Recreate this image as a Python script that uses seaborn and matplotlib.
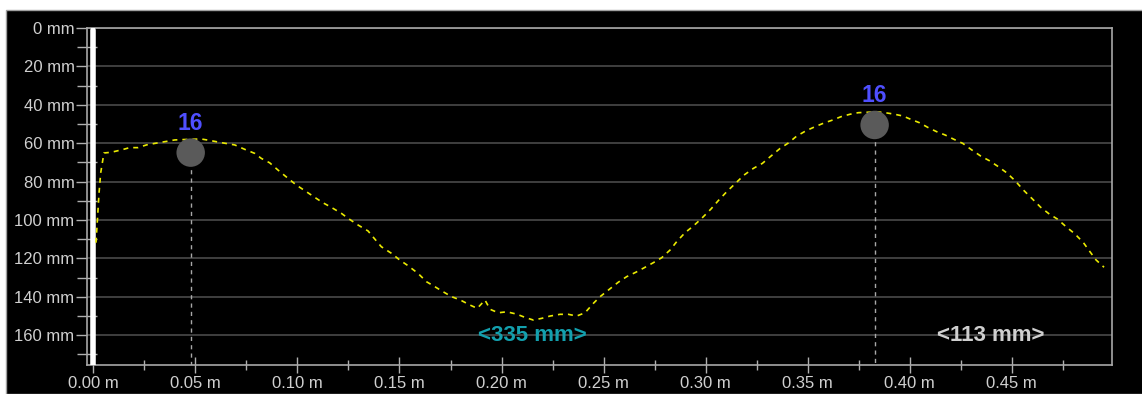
import matplotlib
matplotlib.use("Agg")
import matplotlib.pyplot as plt
from matplotlib.patches import Rectangle
from matplotlib.ticker import MultipleLocator, FuncFormatter
import seaborn as sns
import pandas as pd

# ---- data ----
pos_m = [0.0013, 0.0020, 0.0028, 0.0036, 0.0052, 0.0088, 0.0137, 0.0178, 0.0219, 0.0260,
         0.0301, 0.0350, 0.0399, 0.0464, 0.0529, 0.0578, 0.0627, 0.0693, 0.0742, 0.0791,
         0.0823, 0.0864, 0.0905, 0.0954, 0.0995, 0.1036, 0.1085, 0.1125, 0.1166, 0.1215,
         0.1248, 0.1297, 0.1346, 0.1379, 0.1411, 0.1460, 0.1501, 0.1542, 0.1591, 0.1632,
         0.1673, 0.1713, 0.1755, 0.1799, 0.1846, 0.1881, 0.1919, 0.1944, 0.1984, 0.2026,
         0.2074, 0.2115, 0.2156, 0.2197, 0.2238, 0.2287, 0.2327, 0.2368, 0.2409, 0.2450,
         0.2483, 0.2528, 0.2572, 0.2613, 0.2658, 0.2700, 0.2744, 0.2785, 0.2826, 0.2858,
         0.2899, 0.2940, 0.2981, 0.3025, 0.3062, 0.3103, 0.3149, 0.3188, 0.3234, 0.3278,
         0.3320, 0.3365, 0.3405, 0.3446, 0.3492, 0.3536, 0.3577, 0.3623, 0.3663, 0.3708,
         0.3748, 0.3789, 0.3838, 0.3879, 0.3920, 0.3966, 0.4006, 0.4047, 0.4091, 0.4132,
         0.4173, 0.4217, 0.4260, 0.4304, 0.4348, 0.4390, 0.4434, 0.4475, 0.4516, 0.4557,
         0.4598, 0.4642, 0.4684, 0.4725, 0.4766, 0.4810, 0.4851, 0.4883, 0.4913, 0.4952]
depth_mm = [111.8, 100.0, 85.9, 75.5, 65.1, 64.7, 63.5, 62.3, 62.3, 60.9,
            60.1, 59.2, 58.3, 58.0, 57.8, 58.7, 59.7, 60.9, 63.2, 65.3,
            67.9, 70.2, 74.0, 78.3, 81.8, 84.7, 88.2, 91.0, 93.4, 96.5,
            99.1, 102.6, 105.7, 109.9, 113.9, 117.3, 120.8, 123.8, 127.8, 132.1,
            134.7, 137.3, 139.9, 141.7, 144.3, 146.0, 141.7, 146.5, 148.3, 147.8,
            149.0, 150.7, 152.1, 151.2, 150.0, 149.1, 149.1, 150.0, 148.3, 143.4,
            139.9, 136.1, 132.4, 129.5, 127.2, 124.8, 122.2, 119.6, 115.6, 111.3,
            106.6, 103.1, 99.1, 94.4, 89.9, 85.3, 80.6, 76.6, 73.1, 70.5,
            66.7, 62.7, 59.9, 56.3, 53.5, 51.4, 49.6, 47.9, 46.2, 44.9,
            44.1, 43.9, 43.6, 44.1, 44.8, 45.8, 47.6, 49.3, 51.9, 54.0,
            55.7, 58.0, 60.1, 63.5, 66.7, 69.1, 72.2, 75.4, 79.5, 84.4,
            88.7, 93.4, 96.9, 99.6, 103.5, 107.3, 111.8, 116.5, 120.8, 124.6]

marker_x = [0.0477, 0.3828]
marker_y = [64.9, 50.5]
marker_labels = ["16", "16"]

span_labels = ["<335 mm>", "<113 mm>"]
span_x = [0.2153, 0.4395]
span_y = [160, 160]
span_colors = ["#13a0ae", "#cfcfcf"]

x_end = 0.4991

# ---- figure ----
sns.set_theme(style="dark")
plt.rcParams["font.family"] = ["Liberation Sans", "DejaVu Sans"]

W, H = 1142, 394
fig = plt.figure(figsize=(W / 100, H / 100), dpi=100, facecolor="white")
bg = Rectangle((6 / W, 0), 1, (H - 10) / H, transform=fig.transFigure,
               facecolor="black", edgecolor="#a0a0a0", lw=1, zorder=-10)
fig.add_artist(bg)
ax = fig.add_axes([87 / W, 1 - 365 / H, (1112 - 87) / W, (365 - 28) / H])
ax.set_zorder(5)
ax.set_facecolor("black")

curve = pd.DataFrame({"pos": pos_m, "depth": depth_mm})
sns.lineplot(data=curve, x="pos", y="depth", ax=ax, color="#eaea00", lw=1.2,
             linestyle=(0, (3, 3)), sort=False, zorder=4)

# white bar at origin
ax.axvline(0, color="white", lw=4, ymin=0, ymax=0.995, zorder=3)

# marker drop lines
for mx, my in zip(marker_x, marker_y):
    ax.vlines(mx, my, 175.5, color="#a8a8a8", lw=1, linestyles=(0, (3, 3)), zorder=2)

mk = pd.DataFrame({"x": marker_x, "y": marker_y})
sns.scatterplot(data=mk, x="x", y="y", ax=ax, s=420, color="#5a5a5a",
                edgecolor="none", zorder=5)
for mx, my, lab in zip(marker_x, marker_y, marker_labels):
    ax.annotate(lab, (mx, my), xytext=(0, 21), textcoords="offset points",
                ha="center", va="center", color="#4f4fff", fontsize=16.5,
                fontweight="bold", zorder=6)

for sx, sy, lab, c in zip(span_x, span_y, span_labels, span_colors):
    ax.text(sx, sy, lab, ha="center", va="center", color=c, fontsize=16,
            fontweight="bold", zorder=6)

ax.set_xlim(-0.0031, x_end)
ax.set_ylim(175.5, 0)

ax.xaxis.set_major_locator(MultipleLocator(0.05))
ax.xaxis.set_minor_locator(MultipleLocator(0.025))
ax.yaxis.set_major_locator(MultipleLocator(20))
ax.yaxis.set_minor_locator(MultipleLocator(10))
ax.xaxis.set_major_formatter(FuncFormatter(lambda v, p: f"{v:.2f} m"))
ax.yaxis.set_major_formatter(FuncFormatter(lambda v, p: f"{v:.0f} mm"))

ax.grid(False)
ax.yaxis.grid(True, which="major", color="#4a4a4a", lw=1.2)
ax.set_axisbelow(True)

ax.tick_params(axis="x", which="major", direction="inout", length=12, width=1,
               color="#b0b0b0", labelcolor="#d0d0d0", labelsize=12, pad=2)
ax.tick_params(axis="x", which="minor", direction="inout", length=7, width=1,
               color="#b0b0b0")
ax.tick_params(axis="y", which="major", direction="out", length=8, width=1,
               color="#b0b0b0", labelcolor="#d0d0d0", labelsize=12, pad=1)
ax.tick_params(axis="y", which="minor", direction="inout", length=14, width=1,
               color="#b0b0b0")
ax.tick_params(left=True, bottom=True, which="both")

for s in ax.spines.values():
    s.set_visible(True)
    s.set_color("#a8a8a8")
    s.set_linewidth(1.2)

ax.set_xlabel("")
ax.set_ylabel("")

fig.savefig("out.png", dpi=100, facecolor="white")
